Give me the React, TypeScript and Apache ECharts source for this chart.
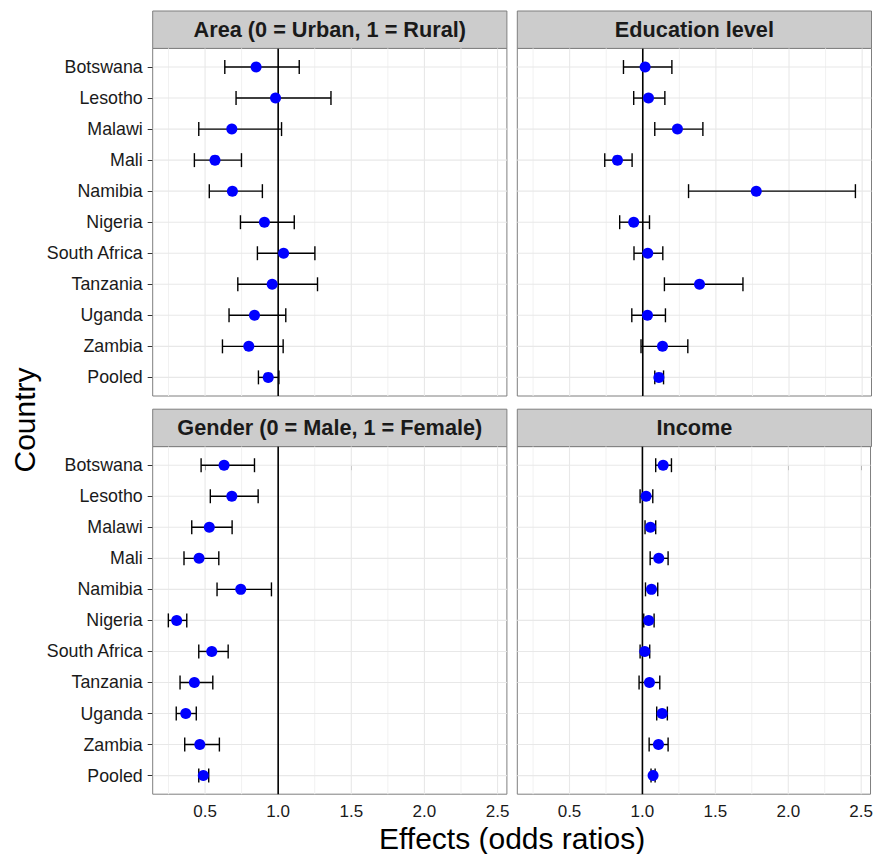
import React, { useEffect, useRef } from "react";
import * as echarts from "echarts";

// Categories (top to bottom in every panel)
const countries = [
  "Botswana", "Lesotho", "Malawi", "Mali", "Namibia", "Nigeria",
  "South Africa", "Tanzania", "Uganda", "Zambia", "Pooled",
];

const panelTitles = [
  "Area (0 = Urban, 1 = Rural)",
  "Education level",
  "Gender (0 = Male, 1 = Female)",
  "Income",
];

// Odds ratios with 95% confidence limits
const areaEst = [0.849, 0.982, 0.683, 0.568, 0.687, 0.906, 1.037, 0.959, 0.838, 0.799, 0.932];
const areaLow = [0.635, 0.712, 0.457, 0.427, 0.529, 0.742, 0.858, 0.724, 0.664, 0.619, 0.865];
const areaHigh = [1.144, 1.361, 1.023, 0.749, 0.892, 1.110, 1.251, 1.269, 1.052, 1.034, 1.005];

const eduEst = [1.016, 1.039, 1.237, 0.827, 1.776, 0.938, 1.034, 1.388, 1.032, 1.135, 1.110];
const eduLow = [0.868, 0.938, 1.082, 0.740, 1.313, 0.842, 0.940, 1.148, 0.925, 0.988, 1.082];
const eduHigh = [1.199, 1.151, 1.411, 0.927, 2.454, 1.046, 1.137, 1.685, 1.155, 1.308, 1.142];

const genderEst = [0.630, 0.683, 0.529, 0.459, 0.744, 0.306, 0.546, 0.427, 0.368, 0.464, 0.488];
const genderLow = [0.473, 0.536, 0.409, 0.356, 0.582, 0.249, 0.457, 0.329, 0.303, 0.361, 0.457];
const genderHigh = [0.838, 0.863, 0.685, 0.594, 0.954, 0.375, 0.658, 0.553, 0.440, 0.598, 0.525];

const incomeEst = [1.142, 1.025, 1.055, 1.112, 1.062, 1.043, 1.016, 1.048, 1.135, 1.110, 1.073];
const incomeLow = [1.091, 0.984, 1.018, 1.053, 1.021, 1.009, 0.984, 0.977, 1.098, 1.046, 1.059];
const incomeHigh = [1.199, 1.071, 1.091, 1.176, 1.105, 1.080, 1.050, 1.119, 1.171, 1.176, 1.087];

const xTicks = [0.5, 1.0, 1.5, 2.0, 2.5];
const xMinorTicks = [0.25, 0.75, 1.25, 1.75, 2.25];
const referenceOdds = 1;

const panels = [
  { est: areaEst, low: areaLow, high: areaHigh },
  { est: eduEst, low: eduLow, high: eduHigh },
  { est: genderEst, low: genderLow, high: genderHigh },
  { est: incomeEst, low: incomeLow, high: incomeHigh },
];

// Shared x range (data range expanded by 5% on each side)
const X_MIN = 0.142;
const X_MAX = 2.564;
// Discrete y range with 0.6 category padding
const Y_MIN = -0.6;
const Y_MAX = countries.length - 1 + 0.6;

const COL_LEFT = [152.7, 517.3];
const PANEL_W = 354.2;
const ROW_TOP = [48.4, 446.6];
const PANEL_H = 347.6;
const STRIP_H = 37.4;

const FONT = "'Liberation Sans', Arial, Helvetica, sans-serif";

export default function App() {
  const ref = useRef<HTMLDivElement>(null);

  useEffect(() => {
    if (!ref.current) return;
    const chart = echarts.init(ref.current, undefined, { renderer: "svg" });

    const grids: any[] = [];
    const xAxes: any[] = [];
    const yAxes: any[] = [];
    const series: any[] = [];
    const graphics: any[] = [];

    panels.forEach((p, i) => {
      const col = i % 2;
      const row = Math.floor(i / 2);
      const left = COL_LEFT[col];
      const top = ROW_TOP[row];
      const bottomRow = row === 1;
      const leftCol = col === 0;

      grids.push({
        left, top, width: PANEL_W, height: PANEL_H,
        show: true, backgroundColor: "#ffffff",
        borderColor: "#7f7f7f", borderWidth: 1,
        containLabel: false,
      });

      xAxes.push({
        type: "value", gridIndex: i, min: X_MIN, max: X_MAX,
        axisLine: { show: false },
        splitLine: { show: false },
        axisTick: {
          show: bottomRow, customValues: xTicks, length: 5,
          lineStyle: { color: "#333333", width: 1 },
        },
        axisLabel: {
          show: bottomRow, customValues: xTicks, margin: 9,
          formatter: (v: number) => v.toFixed(1),
          fontFamily: FONT, fontSize: 17, color: "#1a1a1a",
        },
      });

      yAxes.push({
        type: "value", gridIndex: i, min: Y_MIN, max: Y_MAX, inverse: true,
        axisLine: { show: false },
        splitLine: { show: false },
        axisTick: {
          show: leftCol, customValues: countries.map((_, k) => k), length: 5,
          lineStyle: { color: "#333333", width: 1 },
        },
        axisLabel: {
          show: leftCol, customValues: countries.map((_, k) => k), margin: 10,
          formatter: (v: number) => countries[Math.round(v)] ?? "",
          fontFamily: FONT, fontSize: 17.8, color: "#1a1a1a",
        },
      });

      // Background: grid lines and the reference line at odds ratio 1
      const bgItems = [
        ...xMinorTicks.map((v) => ({ value: [v, 0], kind: "minor" })),
        ...xTicks.map((v) => ({ value: [v, 0], kind: "major" })),
        ...countries.map((_, k) => ({ value: [X_MIN, k], kind: "row" })),
        { value: [referenceOdds, 0], kind: "ref" },
      ];
      series.push({
        type: "custom", xAxisIndex: i, yAxisIndex: i, z: 1, silent: true,
        data: bgItems.map((d) => d.value),
        encode: { x: 0, y: 1 },
        renderItem: (params: any, api: any) => {
          const kind = bgItems[params.dataIndex].kind;
          const cs = params.coordSys;
          if (kind === "row") {
            const c = api.coord([X_MIN, api.value(1)]);
            return {
              type: "line",
              shape: { x1: cs.x, y1: c[1], x2: cs.x + cs.width, y2: c[1] },
              style: { stroke: "#e8e8e8", lineWidth: 1.1 },
            };
          }
          const c = api.coord([api.value(0), 0]);
          const style =
            kind === "ref"
              ? { stroke: "#000000", lineWidth: 1.6 }
              : kind === "major"
              ? { stroke: "#e8e8e8", lineWidth: 1.1 }
              : { stroke: "#f1f1f1", lineWidth: 1 };
          return {
            type: "line",
            z2: kind === "ref" ? 10 : 0,
            shape: { x1: c[0], y1: cs.y, x2: c[0], y2: cs.y + cs.height },
            style,
          };
        },
      });

      // Confidence interval bars
      series.push({
        type: "custom", xAxisIndex: i, yAxisIndex: i, z: 2, silent: true,
        data: countries.map((_, k) => [p.low[k], p.high[k], k]),
        encode: { x: [0, 1], y: 2 },
        renderItem: (_params: any, api: any) => {
          const lo = api.coord([api.value(0), api.value(2)]);
          const hi = api.coord([api.value(1), api.value(2)]);
          const h = api.size([0, 1])[1] * 0.225;
          const style = { stroke: "#000000", lineWidth: 1.4 };
          return {
            type: "group",
            children: [
              { type: "line", shape: { x1: lo[0], y1: lo[1], x2: hi[0], y2: hi[1] }, style },
              { type: "line", shape: { x1: lo[0], y1: lo[1] - h, x2: lo[0], y2: lo[1] + h }, style },
              { type: "line", shape: { x1: hi[0], y1: hi[1] - h, x2: hi[0], y2: hi[1] + h }, style },
            ],
          };
        },
      });

      // Point estimates
      series.push({
        type: "scatter", xAxisIndex: i, yAxisIndex: i, z: 3, silent: true,
        symbol: "circle", symbolSize: 11,
        itemStyle: { color: "#0000ff", opacity: 1 },
        data: countries.map((_, k) => [p.est[k], k]),
      });

      // Facet strip
      graphics.push({
        type: "rect",
        shape: { x: left, y: top - STRIP_H, width: PANEL_W, height: STRIP_H },
        style: { fill: "#cccccc", stroke: "#7f7f7f", lineWidth: 1 },
      });
      graphics.push({
        type: "text",
        x: left + PANEL_W / 2,
        y: top - STRIP_H / 2,
        style: {
          text: panelTitles[i],
          fontFamily: FONT, fontWeight: "bold", fontSize: 21.7,
          fill: "#1a1a1a", align: "center", verticalAlign: "middle",
        },
      });
    });

    graphics.push({
      type: "text",
      x: (COL_LEFT[0] + COL_LEFT[1] + PANEL_W) / 2,
      y: 838,
      style: {
        text: "Effects (odds ratios)",
        fontFamily: FONT, fontSize: 30, fill: "#000000",
        align: "center", verticalAlign: "middle",
      },
    });
    graphics.push({
      type: "text",
      x: 24,
      y: 420,
      rotation: Math.PI / 2,
      style: {
        text: "Country",
        fontFamily: FONT, fontSize: 30, fill: "#000000",
        align: "center", verticalAlign: "middle",
      },
    });

    chart.setOption({
      animation: false,
      backgroundColor: "#ffffff",
      grid: grids,
      xAxis: xAxes,
      yAxis: yAxes,
      series,
      graphic: { elements: graphics },
    });

    return () => chart.dispose();
  }, []);

  return (
    <div
      ref={ref}
      style={{ position: "fixed", left: 0, top: 0, width: 876, height: 854 }}
    />
  );
}
